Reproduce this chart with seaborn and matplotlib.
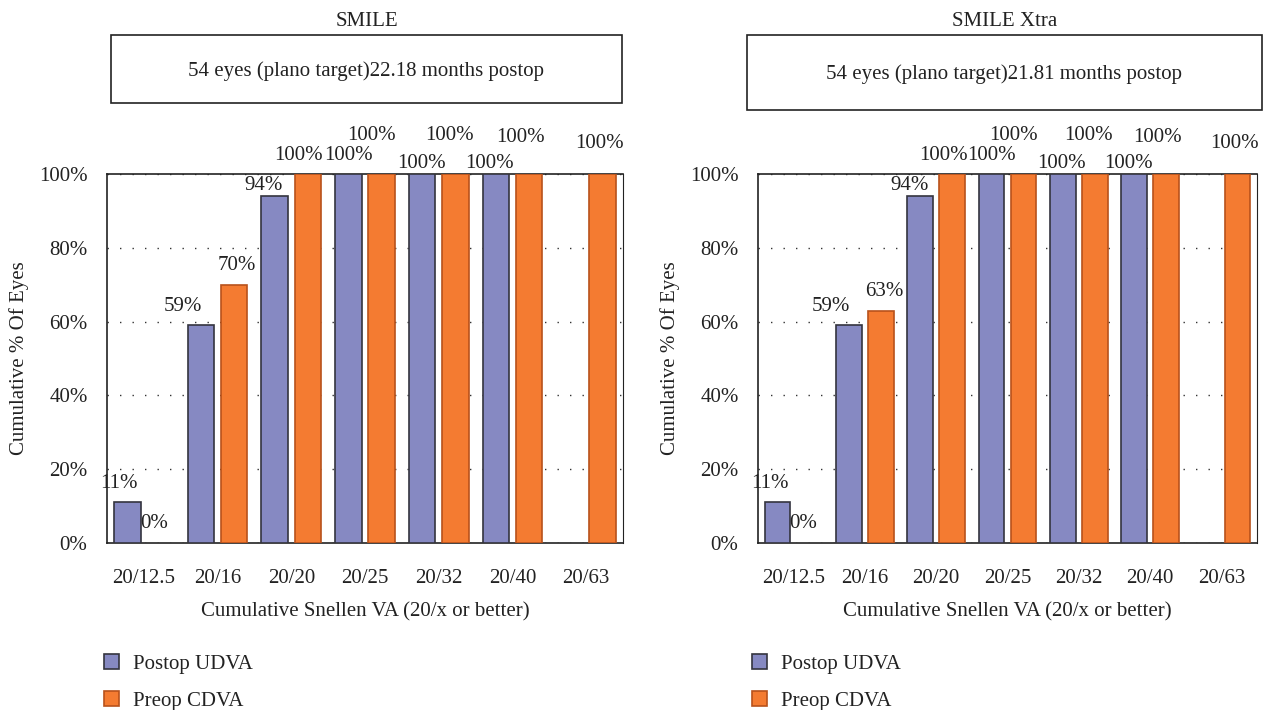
import numpy as np
import pandas as pd
import matplotlib
matplotlib.use("Agg")
import matplotlib.pyplot as plt
from matplotlib.patches import Rectangle
import seaborn as sns

# --- data ---
categories = ["20/12.5", "20/16", "20/20", "20/25", "20/32", "20/40", "20/63"]
series = ["Postop UDVA", "Preop CDVA"]

smile_postop_udva = [11, 59, 94, 100, 100, 100, np.nan]
smile_preop_cdva = [0, 70, 100, 100, 100, 100, 100]

xtra_postop_udva = [11, 59, 94, 100, 100, 100, np.nan]
xtra_preop_cdva = [0, 63, 100, 100, 100, 100, 100]

panel_titles = ["SMILE", "SMILE Xtra"]
panel_notes = ["54 eyes (plano target)22.18 months postop",
               "54 eyes (plano target)21.81 months postop"]

# label nudges (pixels) the original figure used, per series per category
label_nudge = {
    "Postop UDVA": [(-8, 19), (-18, 19), (-11, 11), (0, 19), (-1, 11), (-6, 11), (0, 0)],
    "Preop CDVA": [(-6, 19), (3, 19), (-9, 19), (-10, 39), (-6, 39), (-9, 36), (-3, 30)],
}

COLORS = {"Postop UDVA": "#8689C2", "Preop CDVA": "#F47B31"}
EDGES = {"Postop UDVA": "#34343e", "Preop CDVA": "#b8521b"}
FS = 15


def make_frame(postop, preop):
    df = pd.DataFrame({
        "VA": categories * 2,
        "Series": [series[0]] * len(categories) + [series[1]] * len(categories),
        "Pct": list(postop) + list(preop),
    })
    return df.dropna()


def draw_panel(fig, rect, df, title, note, box, legend_xy):
    ax = fig.add_axes(rect)
    sns.barplot(data=df, x="VA", y="Pct", hue="Series", order=categories,
                hue_order=series, palette=COLORS, width=0.9, gap=0.2,
                linewidth=1.2, saturation=1, legend=True, ax=ax, zorder=3)

    for cont, name in zip(ax.containers, series):
        for bar in cont:
            bar.set_edgecolor(EDGES[name])
            h = bar.get_height()
            if np.isnan(h):
                continue
            if h == 0:
                bar.set_visible(False)
            xc = bar.get_x() + bar.get_width() / 2
            idx = int(round(xc))
            dx, dy = label_nudge[name][idx]
            ax.annotate(f"{h:.0f}%", (xc, h), xytext=(dx, dy),
                        textcoords="offset pixels", ha="center", va="center",
                        fontsize=FS, color="#222222", annotation_clip=False)

    ax.set_ylim(0, 100)
    ax.set_xlim(-0.5, len(categories) - 0.5)
    ax.set_yticks(range(0, 101, 20))
    ax.set_yticklabels([f"{v}%" for v in range(0, 101, 20)])
    ax.set_xticks(np.arange(-0.5, len(categories), 1.0), minor=True)
    ax.tick_params(axis="x", which="major", length=0, pad=19, labelsize=FS)
    ax.tick_params(axis="x", which="minor", length=6, width=1.2, direction="out")
    ax.tick_params(axis="y", length=6, width=1.2, direction="out", pad=8, labelsize=FS)
    ax.yaxis.grid(True, color="#333333", linestyle=(0, (1, 8)), linewidth=1)
    ax.xaxis.grid(False)
    ax.set_axisbelow(True)
    for s in ax.spines.values():
        s.set_visible(True)
        s.set_color("#222222")
        s.set_linewidth(1.2)
    ax.spines["right"].set_linewidth(0.8)

    ax.set_xlabel("Cumulative Snellen VA (20/x or better)", fontsize=FS, labelpad=10)
    ax.set_ylabel("Cumulative % Of Eyes", fontsize=FS, labelpad=7)

    handles, labels = ax.get_legend_handles_labels()
    for hnd, name in zip(handles, series):
        hnd.set_edgecolor(EDGES[name])
    ax.legend(handles, labels, loc="upper left", bbox_to_anchor=legend_xy,
              bbox_transform=fig.transFigure, frameon=False, fontsize=FS,
              handlelength=0.7, handleheight=0.7, handletextpad=0.7,
              labelspacing=0.85, borderpad=0, borderaxespad=0)

    W, H = 1270, 710
    x0, y0, x1, y1 = box
    fig.patches.append(Rectangle((x0 / W, 1 - y1 / H), (x1 - x0) / W, (y1 - y0) / H,
                                 transform=fig.transFigure, fill=False,
                                 edgecolor="#222222", linewidth=1.2))
    fig.text((x0 + x1) / 2 / W, 1 - 21 / H, title, ha="center", va="center", fontsize=FS)
    fig.text((x0 + x1) / 2 / W, 1 - ((y0 + y1) / 2 + 2) / H, note, ha="center",
             va="center", fontsize=FS)
    return ax


sns.set_theme(style="white")
plt.rcParams["font.family"] = ["Liberation Serif", "DejaVu Serif"]
plt.rcParams["text.color"] = "#222222"
plt.rcParams["axes.labelcolor"] = "#222222"
plt.rcParams["xtick.color"] = "#222222"
plt.rcParams["ytick.color"] = "#222222"

fig = plt.figure(figsize=(12.7, 7.1), dpi=100)
W, H = 1270, 710

draw_panel(fig, [107 / W, 1 - 543 / H, 516 / W, 369 / H],
           make_frame(smile_postop_udva, smile_preop_cdva),
           panel_titles[0], panel_notes[0], (111, 35, 622, 103), (104 / W, 1 - 654 / H))
draw_panel(fig, [758 / W, 1 - 543 / H, 499 / W, 369 / H],
           make_frame(xtra_postop_udva, xtra_preop_cdva),
           panel_titles[1], panel_notes[1], (747, 35, 1262, 110), (752 / W, 1 - 654 / H))

fig.savefig("out.png", dpi=100)
